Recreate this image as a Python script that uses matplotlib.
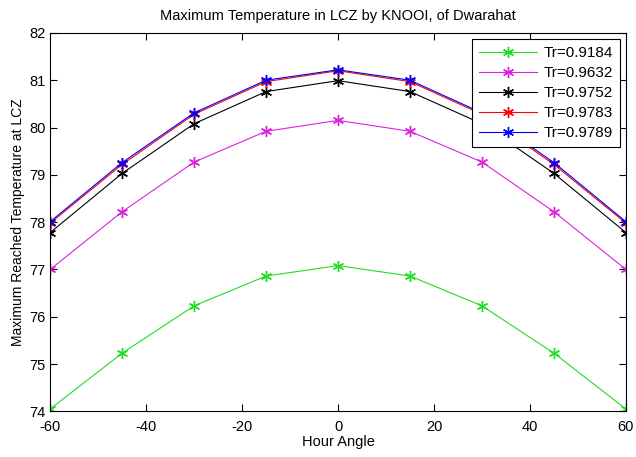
import matplotlib
matplotlib.use("Agg")
from matplotlib import pyplot as plt

plt.rcParams['font.family'] = ['Liberation Sans', 'DejaVu Sans']
plt.rcParams['axes.unicode_minus'] = False

hour_angle = [-60, -45, -30, -15, 0, 15, 30, 45, 60]
labels = ["Tr=0.9184", "Tr=0.9632", "Tr=0.9752", "Tr=0.9783", "Tr=0.9789"]
t_9184 = [74.05, 75.23, 76.23, 76.86, 77.08, 76.86, 76.23, 75.23, 74.05]
t_9632 = [77.00, 78.22, 79.27, 79.92, 80.15, 79.92, 79.27, 78.22, 77.00]
t_9752 = [77.78, 79.03, 80.08, 80.76, 80.99, 80.76, 80.08, 79.03, 77.78]
t_9783 = [77.98, 79.22, 80.28, 80.97, 81.20, 80.97, 80.28, 79.22, 77.98]
t_9789 = [78.01, 79.26, 80.31, 81.00, 81.22, 81.00, 80.31, 79.26, 78.01]
colors = ['#22dd22', '#dd22dd', 'black', 'red', 'blue']

f = plt.figure(figsize=(6.36, 4.57), dpi=100)
ax = f.add_axes([0.079, 0.100, 0.905, 0.828])
for ys, c, lab in zip([t_9184, t_9632, t_9752, t_9783, t_9789], colors, labels):
	ax.plot(hour_angle, ys, '-', marker=(6, 2, 0), color=c, label=lab,
		linewidth=0.8, markersize=8, markeredgewidth=1.0)

ax.set_xlim(-60, 60)
ax.set_ylim(74, 82)
ax.set_xticks(range(-60, 61, 20))
ax.set_yticks(range(74, 83))
ax.tick_params(direction='in', top=True, right=True, labelsize=10.5, length=5)
ax.tick_params(axis='x', pad=6)
ax.set_xlabel("Hour Angle", fontsize=10.5, labelpad=1)
ax.set_ylabel("Maximum Reached Temperature at LCZ", fontsize=10, labelpad=3)
ax.set_title("Maximum Temperature in LCZ by KNOOI, of Dwarahat", fontsize=10.5, pad=9)
leg = ax.legend(loc='upper right', fontsize=11, fancybox=False, edgecolor='black',
	borderaxespad=0.4, handlelength=3.8, labelspacing=0.4, framealpha=1,
	borderpad=0.45, handletextpad=0.4)
leg.get_frame().set_linewidth(0.8)
f.savefig("out.png", dpi=100)
